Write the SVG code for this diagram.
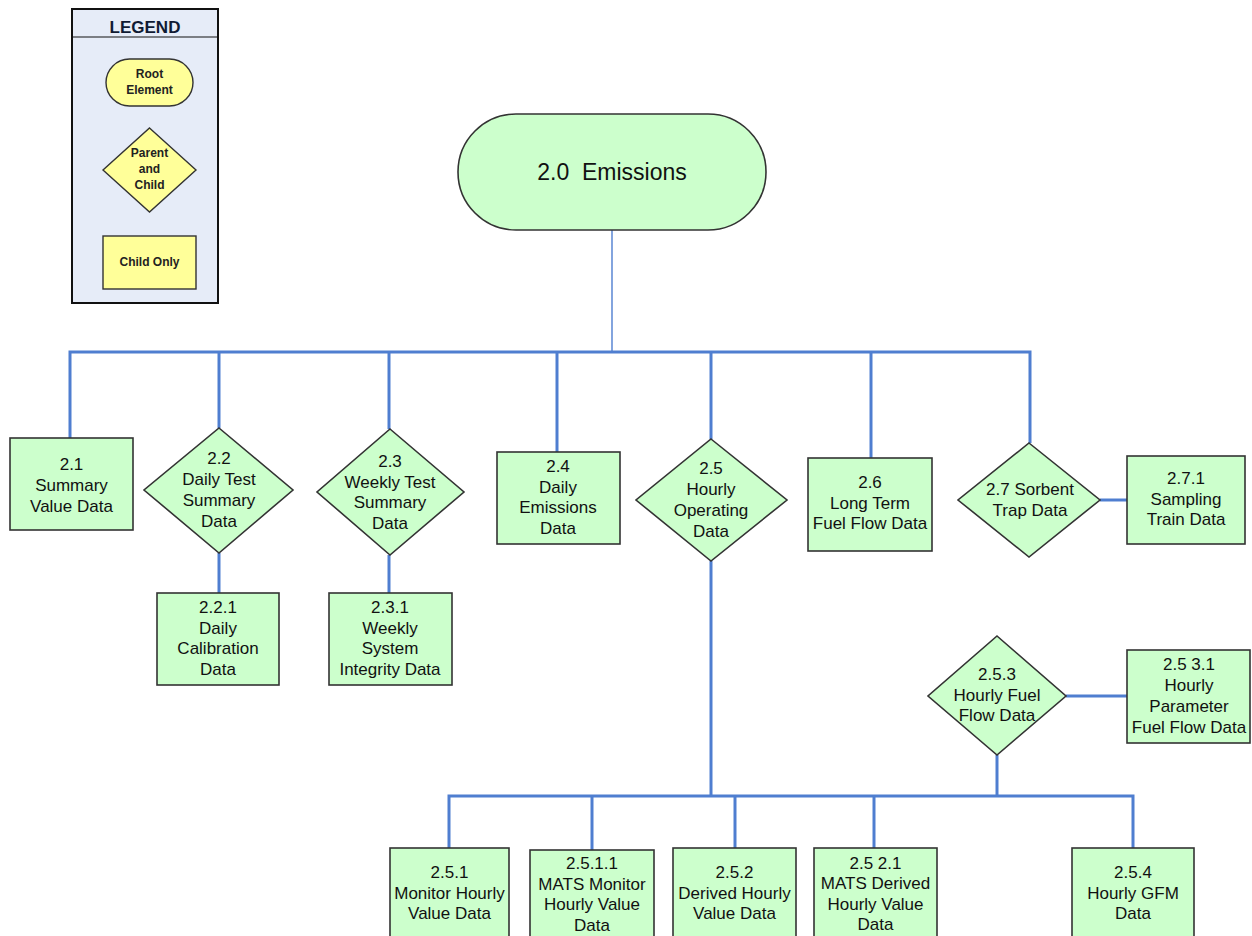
<svg xmlns="http://www.w3.org/2000/svg" width="1252" height="936" viewBox="0 0 1252 936">
<style>
.n{fill:#CCFFCC;stroke:#333;stroke-width:1.6}
.y{fill:#FFFF99;stroke:#333;stroke-width:1.4}
.c{fill:none;stroke:#4F7ED0;stroke-width:3}
.t{font-family:"Liberation Sans",Arial,sans-serif;font-size:17px;fill:#111;text-anchor:middle}
.s{font-family:"Liberation Sans",Arial,sans-serif;font-size:12px;font-weight:bold;fill:#222;text-anchor:middle}
</style>
<rect width="1252" height="936" fill="#fff"/>
<g id="legend">
<rect x="72" y="9" width="146" height="294" fill="#E6ECF8" stroke="#111" stroke-width="2"/>
<line x1="72" y1="37" x2="218" y2="37" stroke="#111" stroke-width="1.2"/>
<text x="145" y="33" class="t" style="font-weight:bold;font-size:17px;fill:#0F1A33">LEGEND</text>
<rect x="106" y="59" width="87" height="47" rx="23.5" class="y"/>
<text class="s"><tspan x="149.5" y="78">Root</tspan><tspan x="149.5" y="94">Element</tspan></text>
<polygon points="149.5,128 196,170 149.5,212 103,170" class="y"/>
<text class="s"><tspan x="149.5" y="157">Parent</tspan><tspan x="149.5" y="173">and</tspan><tspan x="149.5" y="189">Child</tspan></text>
<rect x="103" y="236" width="93" height="53" class="y"/>
<text x="149.5" y="266" class="s">Child Only</text>
</g>
<g id="connectors">
<line x1="612" y1="230" x2="612" y2="352" stroke="#4F7ED0" stroke-width="1.4"/>
<polyline class="c" points="70,438 70,352 1030,352 1030,443"/>
<line class="c" x1="219" y1="352" x2="219" y2="428"/>
<line class="c" x1="389" y1="352" x2="389" y2="429"/>
<line class="c" x1="557" y1="352" x2="557" y2="452"/>
<line class="c" x1="711" y1="352" x2="711" y2="439"/>
<line class="c" x1="871" y1="352" x2="871" y2="458"/>
<line class="c" x1="219" y1="553" x2="219" y2="593"/>
<line class="c" x1="389" y1="555" x2="389" y2="593"/>
<line class="c" x1="1100" y1="500" x2="1127" y2="500"/>
<line class="c" x1="1066" y1="696" x2="1127" y2="696"/>
<line class="c" x1="711" y1="561" x2="711" y2="796"/>
<line class="c" x1="997" y1="755" x2="997" y2="796"/>
<polyline class="c" points="449,848 449,796 1133,796 1133,848"/>
<line class="c" x1="592" y1="796" x2="592" y2="850"/>
<line class="c" x1="735" y1="796" x2="735" y2="848"/>
<line class="c" x1="874" y1="796" x2="874" y2="848"/>
</g>
<g id="n2_0">
<rect x="458" y="114" width="308" height="116" rx="58" class="n"/>
<text x="612" y="180" class="t" style="font-size:23px" xml:space="preserve">2.0  Emissions</text>
</g>
<g id="n2_1">
<rect x="10" y="438" width="123" height="92" class="n"/>
<text class="t"><tspan x="71.5" y="470">2.1</tspan><tspan x="71.5" y="491">Summary</tspan><tspan x="71.5" y="512">Value Data</tspan></text>
</g>
<g id="n2_2">
<polygon points="219,428 293,490 219,553 144,490" class="n"/>
<text class="t"><tspan x="219" y="464">2.2</tspan><tspan x="219" y="485">Daily Test</tspan><tspan x="219" y="506">Summary</tspan><tspan x="219" y="527">Data</tspan></text>
</g>
<g id="n2_2_1">
<rect x="157" y="593" width="122" height="92" class="n"/>
<text class="t"><tspan x="218" y="613">2.2.1</tspan><tspan x="218" y="634">Daily</tspan><tspan x="218" y="654">Calibration</tspan><tspan x="218" y="675">Data</tspan></text>
</g>
<g id="n2_3">
<polygon points="390,429 464,492 390,555 317,492" class="n"/>
<text class="t"><tspan x="390" y="467">2.3</tspan><tspan x="390" y="488">Weekly Test</tspan><tspan x="390" y="508">Summary</tspan><tspan x="390" y="529">Data</tspan></text>
</g>
<g id="n2_3_1">
<rect x="329" y="593" width="123" height="92" class="n"/>
<text class="t"><tspan x="390" y="613">2.3.1</tspan><tspan x="390" y="634">Weekly</tspan><tspan x="390" y="654">System</tspan><tspan x="390" y="675">Integrity Data</tspan></text>
</g>
<g id="n2_4">
<rect x="497" y="452" width="123" height="92" class="n"/>
<text class="t"><tspan x="558" y="472">2.4</tspan><tspan x="558" y="493">Daily</tspan><tspan x="558" y="513">Emissions</tspan><tspan x="558" y="534">Data</tspan></text>
</g>
<g id="n2_5">
<polygon points="711,439 787,500 711,561 636,500" class="n"/>
<text class="t"><tspan x="711" y="474">2.5</tspan><tspan x="711" y="495">Hourly</tspan><tspan x="711" y="516">Operating</tspan><tspan x="711" y="537">Data</tspan></text>
</g>
<g id="n2_6">
<rect x="808" y="458" width="124" height="93" class="n"/>
<text class="t"><tspan x="870" y="488">2.6</tspan><tspan x="870" y="509">Long Term</tspan><tspan x="870" y="529">Fuel Flow Data</tspan></text>
</g>
<g id="n2_7">
<polygon points="1029,443 1100,500 1029,557 958,500" class="n"/>
<text class="t"><tspan x="1030" y="495">2.7 Sorbent</tspan><tspan x="1030" y="516">Trap Data</tspan></text>
</g>
<g id="n2_7_1">
<rect x="1127" y="456" width="118" height="88" class="n"/>
<text class="t"><tspan x="1186" y="484">2.7.1</tspan><tspan x="1186" y="505">Sampling</tspan><tspan x="1186" y="525">Train Data</tspan></text>
</g>
<g id="n2_5_3">
<polygon points="997,636 1066,696 997,755 928,696" class="n"/>
<text class="t"><tspan x="997" y="680">2.5.3</tspan><tspan x="997" y="701">Hourly Fuel</tspan><tspan x="997" y="721">Flow Data</tspan></text>
</g>
<g id="n2_5_3_1">
<rect x="1127" y="650" width="123" height="93" class="n"/>
<text class="t"><tspan x="1189" y="670">2.5 3.1</tspan><tspan x="1189" y="691">Hourly</tspan><tspan x="1189" y="712">Parameter</tspan><tspan x="1189" y="733">Fuel Flow Data</tspan></text>
</g>
<g id="n2_5_1">
<rect x="390" y="848" width="119" height="94" class="n"/>
<text class="t"><tspan x="449.5" y="878">2.5.1</tspan><tspan x="449.5" y="899">Monitor Hourly</tspan><tspan x="449.5" y="919">Value Data</tspan></text>
</g>
<g id="n2_5_1_1">
<rect x="530" y="850" width="124" height="92" class="n"/>
<text class="t"><tspan x="592" y="869">2.5.1.1</tspan><tspan x="592" y="890">MATS Monitor</tspan><tspan x="592" y="910">Hourly Value</tspan><tspan x="592" y="931">Data</tspan></text>
</g>
<g id="n2_5_2">
<rect x="673" y="848" width="123" height="94" class="n"/>
<text class="t"><tspan x="734.5" y="878">2.5.2</tspan><tspan x="734.5" y="899">Derived Hourly</tspan><tspan x="734.5" y="919">Value Data</tspan></text>
</g>
<g id="n2_5_2_1">
<rect x="814" y="848" width="123" height="94" class="n"/>
<text class="t"><tspan x="875.5" y="869">2.5 2.1</tspan><tspan x="875.5" y="889">MATS Derived</tspan><tspan x="875.5" y="910">Hourly Value</tspan><tspan x="875.5" y="930">Data</tspan></text>
</g>
<g id="n2_5_4">
<rect x="1072" y="848" width="122" height="94" class="n"/>
<text class="t"><tspan x="1133" y="878">2.5.4</tspan><tspan x="1133" y="899">Hourly GFM</tspan><tspan x="1133" y="919">Data</tspan></text>
</g>
</svg>
